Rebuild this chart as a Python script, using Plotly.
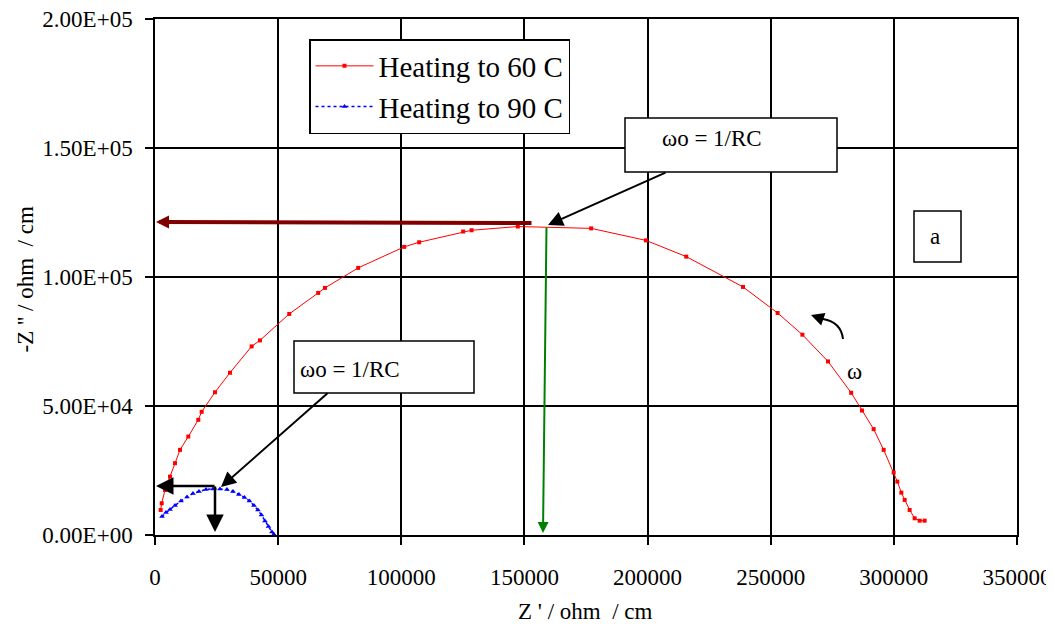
import plotly.graph_objects as go

# Nyquist data (ohm/cm)
heat60_zre = [2300, 2720, 4060, 6090, 8120, 10150, 13510, 17570, 18950, 24350,
              30440, 39240, 42610, 54500, 66270, 69000, 82510, 101180, 107260, 125120,
              128530, 147320, 177090, 199330, 215710, 238760, 252800, 262870, 273250, 282670,
              287050, 291800, 295860, 299920, 301420, 303040, 304380, 306410, 308440, 310470,
              312500]
heat60_zim = [9700, 12300, 17470, 22630, 27830, 33000, 38160, 44640, 47750, 55320,
              62890, 73100, 75430, 85680, 93830, 95770, 103530, 111680, 113470, 117620,
              118120, 119560, 118850, 114190, 107900, 96150, 86060, 77640, 67280, 55120,
              48250, 41030, 33000, 24190, 20690, 16420, 13590, 9700, 6480, 5550,
              5550]

heat90_zre = [2840, 4460, 6090, 8120, 10550, 12990, 15420, 17860, 20700, 23540,
              26380, 29220, 31660, 34090, 36320, 38350, 40180, 41800, 43220, 44640,
              46060, 47480, 48300]
heat90_zim = [7180, 8730, 9900, 11450, 13200, 14750, 16110, 16880, 17660, 17860,
              17860, 17660, 16880, 15720, 14560, 13200, 11450, 9700, 7760, 5430,
              3300, 1160, 200]

x_ticks = [0, 50000, 100000, 150000, 200000, 250000, 300000, 350000]
x_labels = ["0", "50000", "100000", "150000", "200000", "250000", "300000", "350000"]
y_ticks = [0, 50000, 100000, 150000, 200000]
y_labels = ["0.00E+00", "5.00E+04", "1.00E+05", "1.50E+05", "2.00E+05"]

FONT = "Liberation Serif, Times New Roman, serif"

# plot area in page pixels: left 155, right 1017, top 19, bottom 535
def X(px):
    return (px - 155) / 862 * 350000

def Y(py):
    return (535 - py) / 516 * 200000

fig = go.Figure()
fig.add_trace(go.Scatter(x=heat60_zre, y=heat60_zim, mode="lines+markers",
                         name="Heating to 60 C", legendgroup="a",
                         line=dict(color="#ff0000", width=1),
                         marker=dict(symbol="square", size=4, color="#ff0000")))
fig.add_trace(go.Scatter(x=heat90_zre, y=heat90_zim, mode="lines+markers",
                         name="Heating to 90 C", legendgroup="b",
                         line=dict(color="#0000ff", width=1.5, dash="dot"),
                         marker=dict(symbol="triangle-up", size=5, color="#0000ff")))

def arrow(x0, y0, x1, y1, color="black", width=2, size=1.3):
    # arrow from pixel (x0,y0) to head at pixel (x1,y1)
    fig.add_annotation(x=X(x1), y=Y(y1), ax=X(x0), ay=Y(y0), xref="x", yref="y",
                       axref="x", ayref="y", text="", showarrow=True, arrowhead=2,
                       arrowsize=size, arrowwidth=width, arrowcolor=color, standoff=0)

def box(x0, y0, x1, y1):
    fig.add_shape(type="rect", x0=X(x0), x1=X(x1), y0=Y(y1), y1=Y(y0), xref="x", yref="y",
                  line=dict(color="black", width=1.5), fillcolor="white", layer="above")

def label(px, py, txt, xanchor="center", size=23):
    fig.add_annotation(x=X(px), y=Y(py), text=txt, showarrow=False, xanchor=xanchor,
                       font=dict(family=FONT, size=size, color="black"))

# dark red horizontal arrow at peak, green vertical arrow
arrow(533, 223, 156, 222, color="#800000", width=4, size=0.65)
arrow(546.5, 226, 543, 533, color="#008000", width=2, size=1.1)

# upper box and arrow
box(625, 118, 837, 172)
label(712, 138, "ωo = 1/RC")
arrow(667, 172, 548, 225, size=1.5)

# lower box and arrows
box(294, 341, 474, 393)
label(298, 369, "ωo = 1/RC", xanchor="left")
arrow(329, 392, 221, 487, size=1.5)
arrow(216, 486, 156, 486, width=2.5, size=1.4)
arrow(215, 485, 215, 532, width=2.5, size=1.4)

# "a" box
box(914, 211, 961, 262)
label(935, 236, "a")

# omega direction arrow
fig.add_shape(type="path",
              path=f"M {X(843)},{Y(339)} Q {X(841)},{Y(322)} {X(823)},{Y(319)}",
              xref="x", yref="y", line=dict(color="black", width=2), layer="above")
arrow(824, 319.5, 811, 315, width=2, size=1.3)
label(854, 371, "ω")

# axis titles as paper annotations (auto anchors: bottom / left)
fig.add_annotation(x=(585 - 155) / 862, y=(535 - 626) / 516, xref="paper", yref="paper",
                   text="Z ' / ohm  / cm", showarrow=False,
                   font=dict(family=FONT, size=23, color="black"))
fig.add_annotation(x=(10 - 155) / 862, y=(535 - 280) / 516, xref="paper", yref="paper",
                   text="-Z '' / ohm  / cm", showarrow=False, textangle=-90,
                   font=dict(family=FONT, size=23, color="black"))

axis_common = dict(showline=True, linecolor="black", linewidth=1.5, mirror=True,
                   showgrid=True, gridcolor="black", gridwidth=1.5, zeroline=False,
                   ticks="outside", ticklen=8, tickcolor="black", tickwidth=1.5,
                   automargin=False, ticklabeloverflow="allow", tickmode="array",
                   tickfont=dict(family=FONT, size=23, color="black"))

fig.update_xaxes(range=[0, 350000], tickvals=x_ticks, ticktext=x_labels,
                 ticklabelstandoff=13, **axis_common)
fig.update_yaxes(range=[0, 200000], tickvals=y_ticks, ticktext=y_labels,
                 ticklabelstandoff=8, **axis_common)

# the page puts the figure 8px in from the top-left corner
fig.update_layout(width=1046, height=626,
                  margin=dict(l=147, r=37, t=11, b=99),
                  plot_bgcolor="white", paper_bgcolor="white",
                  font=dict(family=FONT, size=23, color="black"),
                  legend=dict(x=(309 - 155) / 862, y=(535 - 39) / 516,
                              xanchor="left", yanchor="top",
                              bgcolor="white", bordercolor="black", borderwidth=1.5,
                              font=dict(family=FONT, size=29, color="black"),
                              tracegroupgap=0, itemwidth=58),
                  showlegend=True)

fig.write_html("out.html")
